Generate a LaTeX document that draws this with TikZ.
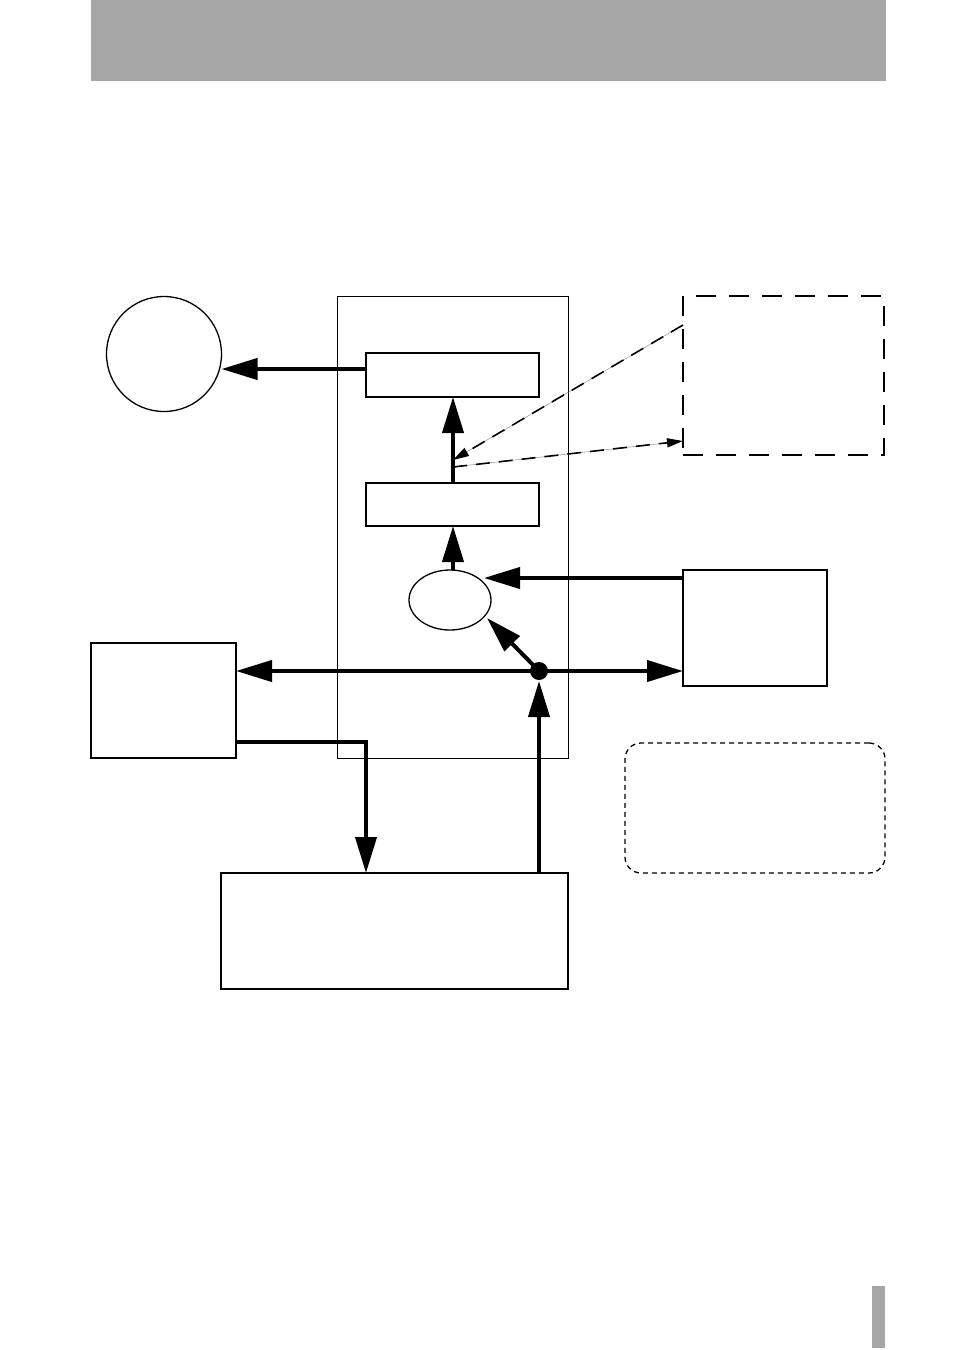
\documentclass[tikz,border=0pt]{standalone}
\usetikzlibrary{arrows.meta,shapes.geometric}
\definecolor{bandgray}{HTML}{A6A6A6}
\begin{document}
\begin{tikzpicture}[x=1pt,y=-1pt,
  thickarrow/.style={line width=4pt,-{Triangle[length=36pt,width=21pt]}},
  blockbox/.style={draw,line width=2pt,anchor=north west,outer sep=0pt,inner sep=0pt},
  thinbox/.style={draw,line width=1.3pt,anchor=north west,outer sep=0pt,inner sep=0pt},
  dashlink/.style={line width=1.6pt,dash pattern=on 14pt off 9pt,-{Triangle[length=16pt,width=9pt]}},
  guide/.style={line width=0.4pt,draw=gray}]
\useasboundingbox (0,0) rectangle (954,1350);
\fill[bandgray] (91,0) rectangle (886,81);
\fill[bandgray] (872,1286) rectangle (885,1348);
% frame
\node[draw,line width=1pt,anchor=north west,outer sep=0pt,inner sep=0pt,minimum width=231pt,minimum height=462pt] (frame) at (337,296) {};
\node[blockbox,minimum width=173pt,minimum height=44pt] (top) at (366,353) {};
\node[blockbox,minimum width=173pt,minimum height=43pt] (mid) at (366,483) {};
\node[draw,ellipse,line width=1.3pt,minimum width=82pt,minimum height=60pt,inner sep=0pt,outer sep=0pt] (ell) at (450,600) {};
\node[draw,circle,line width=1.3pt,minimum size=115pt,inner sep=0pt,outer sep=0pt] (circ) at (164,354) {};
\node[thinbox,minimum width=145pt,minimum height=115pt] (lbox) at (91,643) {};
\node[thinbox,minimum width=144pt,minimum height=116pt] (rbox) at (683,570) {};
\node[thinbox,minimum width=347pt,minimum height=116pt] (bbox) at (221,873) {};
\node[draw,line width=2pt,dash pattern=on 20pt off 13pt,anchor=north west,inner sep=0pt,outer sep=0pt,minimum width=201pt,minimum height=159pt] (dbox) at (683,296) {};
\node[draw,line width=1.3pt,dash pattern=on 5pt off 4pt,rounded corners=16pt,anchor=north west,inner sep=0pt,outer sep=0pt,minimum width=260pt,minimum height=130pt] (rbox2) at (625,743) {};
\fill (539,671) circle (9pt);
\coordinate (dot) at (539,671);
% arrows
\draw[thickarrow] (top.west |- 0,369) -- (circ.east |- 0,369);
\draw[thickarrow] (mid.north -| 453,0) -- (top.south -| 453,0);
\draw[thickarrow] (ell.north -| 453,0) -- (mid.south -| 453,0);
\draw[thickarrow] (rbox.west |- 0,578) -- (484,578);
\draw[thickarrow] (dot) -- (487,618);
\draw[thickarrow] (dot) -- (lbox.east |- dot);
\draw[thickarrow] (dot) -- (rbox.west |- dot);
\draw[thickarrow] (bbox.north -| dot) -- (539,681);
\draw[thickarrow] (lbox.east |- 0,742) -| (bbox.north -| 366,0);
% dashed links
\coordinate (a1) at (683,325);
\coordinate (a2) at (453,460);
\coordinate (b1) at (453,467);
\coordinate (b2) at (683,441);
\draw[guide] (a1) -- (a2);
\draw[guide] (b1) -- (b2);
\draw[dashlink] (a1) -- (a2);
\draw[dashlink] (b1) -- (b2);
\end{tikzpicture}
\end{document}
